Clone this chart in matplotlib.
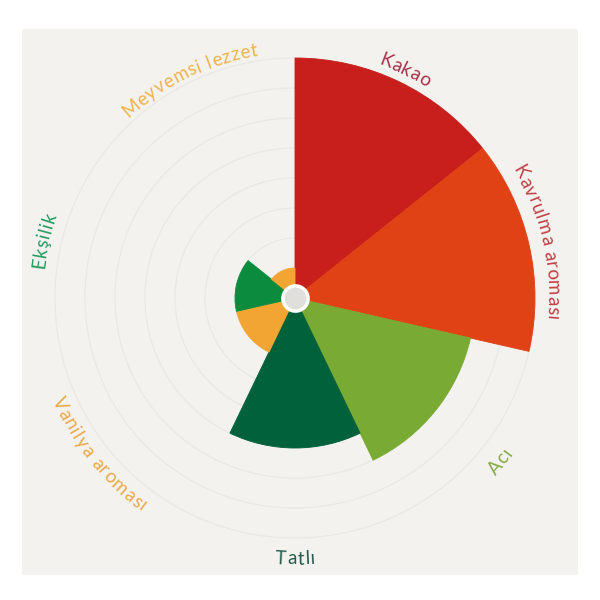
import numpy as np
import matplotlib
matplotlib.use("Agg")
import matplotlib.pyplot as plt
from matplotlib.patches import Rectangle
from matplotlib.font_manager import FontProperties, findfont
from matplotlib.ft2font import FT2Font

# data
categories = ["Kakao", "Kavrulma aroması", "Acı", "Tatlı",
              "Vanilya aroması", "Ekşilik", "Meyvemsi lezzet"]
values = [8, 8, 6, 5, 2, 2, 1]
bar_colors = ["#c81f1c", "#e04216", "#79aa33", "#00613a",
              "#f3a533", "#0b8b3d", "#f3a533"]
label_colors = ["#a8334a", "#c23f45", "#88ab48", "#22594a",
                "#eaa94a", "#259a60", "#efb44c"]
label_radius = [8.45, 8.6, 8.75, 8.7, 8.6, 8.6, 8.35]

fig = plt.figure(figsize=(6, 6), dpi=100, facecolor="white")
bg = Rectangle((22 / 600, 25 / 600), 556 / 600, 546 / 600,
               transform=fig.transFigure, facecolor="#f3f2ef",
               edgecolor="none", zorder=-10)
fig.add_artist(bg)

ax = fig.add_axes([25 / 600, 32 / 600, 540 / 600, 540 / 600], projection="polar")
ax.set_facecolor("none")
ax.set_theta_zero_location("N")
ax.set_theta_direction(-1)
ax.set_ylim(0, 9)

n = len(categories)
step = 2 * np.pi / n
theta = np.arange(n) * step

# grid circles
circ = np.linspace(0, 2 * np.pi, 400)
for r in range(1, 9):
    ax.plot(circ, np.full_like(circ, r), color="#e9e8e4", lw=0.9, zorder=1)

ax.bar(theta, values, width=step, align="edge", color=bar_colors,
       edgecolor=bar_colors, linewidth=0.6, zorder=2)

# center hole
ax.scatter([0], [0], s=330, facecolor="#e1dfdb", edgecolor="white",
           linewidth=2.5, zorder=5)

ax.set_xticks([])
ax.set_yticks([])
ax.grid(False)
ax.spines["polar"].set_visible(False)

# curved labels, placed glyph by glyph
fsize = 13.5
tracking = 0.9  # extra px between letters
fp = FontProperties(family="Lato", size=fsize)
ft = FT2Font(findfont(fp))
ft.set_size(fsize, 100)
px_per_unit = 270 / 9


def advance(ch):
    g = ft.load_char(ord(ch))
    return g.linearHoriAdvance / 65536 + tracking


for i, lab in enumerate(categories):
    phi = (i + 0.5) * step
    R = label_radius[i]
    flip = np.pi / 2 < phi < 3 * np.pi / 2
    adv = [advance(c) for c in lab]
    total = sum(adv) - tracking
    pos = 0.0
    for ch, w in zip(lab, adv):
        s = pos + (w - tracking) / 2 - total / 2
        pos += w
        d = s / (R * px_per_unit)
        if flip:
            a = phi - d
            rot = 180 - np.degrees(a)
        else:
            a = phi + d
            rot = -np.degrees(a)
        ax.text(a, R, ch, fontproperties=fp, color=label_colors[i],
                rotation=rot, rotation_mode="anchor",
                ha="center", va="center", zorder=6)

fig.savefig("out.png", dpi=100, facecolor="white")
